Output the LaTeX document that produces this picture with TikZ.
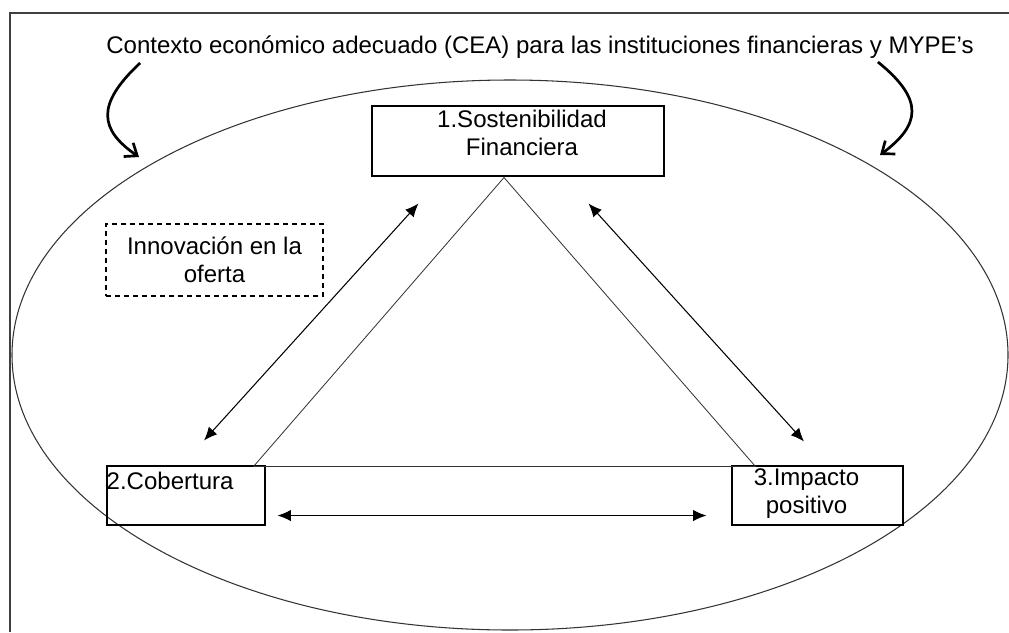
\documentclass[tikz,border=0pt]{standalone}
\usepackage{fontspec}
\setmainfont{Liberation Sans}
\usetikzlibrary{calc,arrows.meta}
\begin{document}
\begin{tikzpicture}[>={Latex[length=4mm,width=3.4mm]},x=0.03cm,y=-0.03cm,
	box/.style={draw,line width=0.9pt,inner sep=0pt},
	txt/.style={inner sep=0pt,align=center},
	rel/.style={<->,line width=0.9pt},
	ctx/.style={-{Straight Barb[length=3.2mm,width=5mm]},line width=2.3pt},
	every node/.style={font=\fontsize{20.5}{24}\selectfont}]
	\useasboundingbox (0,0) rectangle (1009,632);
	\draw[line width=1.3pt,black!75] (10,632)--(10,13)--(1009,13);
	\draw[line width=0.9pt,black!80] (510,355) ellipse [x radius=498,y radius=275];
	\node[anchor=base,inner sep=0pt] (cea) at (540,53) {Contexto económico adecuado (CEA) para las instituciones financieras y MYPE’s};
	\node[box,minimum width=8.76cm,minimum height=2.1cm] (sf) at (518,141) {};
	\node[txt] (sft) at ($(sf.center)+(4,-8)$) {1.Sostenibilidad\\Financiera};
	\node[box,minimum width=4.74cm,minimum height=1.77cm] (cob) at (186,495.5) {};
	\node[anchor=north west,inner sep=0pt] (cobt) at ($(cob.north west)+(0,6)$) {2.Cobertura};
	\node[box,minimum width=5.13cm,minimum height=1.77cm] (imp) at (817.5,495.5) {};
	\node[txt] (impt) at ($(imp.center)+(-11,-2)$) {3.Impacto\\positivo};
	\node[box,txt,dashed,dash pattern=on 0.15cm off 0.12cm,minimum width=6.51cm,minimum height=2.16cm] (inn) at (214.5,260) {Innovación en la\\oferta};
	\coordinate (el) at (139,157);
	\coordinate (er) at (880,155);
	\draw[ctx] ($(cea.base west)+(34,10)$) .. controls (95,105) and (100,130) .. (el);
	\draw[ctx] ($(cea.base east)+(-96,9)$) .. controls (925,100) and (920,125) .. (er);
	\draw[line width=0.7pt,black!80] ($(cob.north east)+(-12,1)$) -- ($(sf.south)+(-14,1)$) -- ($(imp.north west)+(24,1)$) -- cycle;
	\draw[rel] ($(sf.south west)+(47,27)$) -- ($(cob.north)+(18,-25)$);
	\draw[rel] ($(sf.south east)+(-76,27)$) -- ($(imp.north)+(-13.5,-24)$);
	\draw[rel] ($(cob.south east)+(12,-10)$) -- ($(imp.south west)+(-25,-10)$);
\end{tikzpicture}
\end{document}
